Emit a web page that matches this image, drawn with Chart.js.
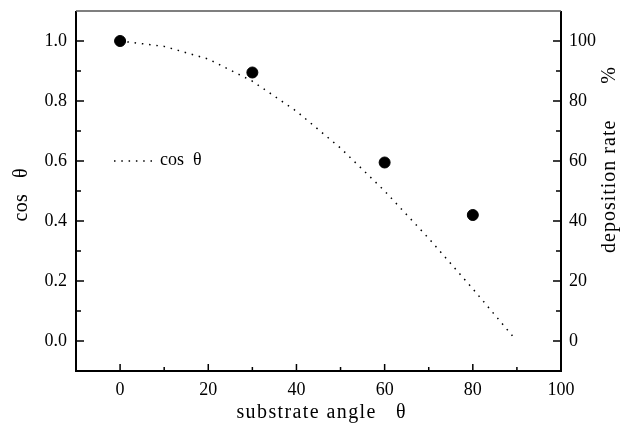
<!DOCTYPE html>
<html>
<head>
<meta charset="utf-8">
<script src="https://cdn.jsdelivr.net/npm/chart.js@4.4.1/dist/chart.umd.min.js"></script>
<style>
  html, body { margin: 0; padding: 0; background: #fff; }
  #wrap { width: 629px; height: 427px; }
</style>
</head>
<body>
<div id="wrap"><canvas id="angleChart" width="629" height="427"></canvas></div>
<script>
// cos theta curve
const curveAngles = [0, 10, 20, 30, 40, 50, 60, 70, 80, 89];
const curveCos = [1.0, 0.982, 0.94, 0.866, 0.766, 0.643, 0.5, 0.342, 0.174, 0.017];

// measured deposition rate (%)
const measAngles = [0, 30, 60, 80];
const measRate = [100, 89.5, 59.5, 42];

// ticks
const xTicks = [0, 20, 40, 60, 80, 100];
const xMinor = [-10, 10, 30, 50, 70, 90];
const yTicks = [0, 0.2, 0.4, 0.6, 0.8, 1.0];
const yMinor = [-0.1, 0.1, 0.3, 0.5, 0.7, 0.9];
const y2Ticks = [0, 20, 40, 60, 80, 100];
const y2Minor = [-10, 10, 30, 50, 70, 90];

const FONT = "'Liberation Serif', 'Times New Roman', serif";

function setTicks(list) {
  return function (scale) {
    scale.ticks = list.map((v) => ({ value: v }));
  };
}

function fitBox(size) {
  return function (s) {
    if (s.isHorizontal()) s.height = size;
    else s.width = size;
    s.paddingTop = 0;
    s.paddingBottom = 0;
    s.paddingLeft = 0;
    s.paddingRight = 0;
  };
}

// draws text with spacing, centred on (0,0) of the current transform
function spacedText(ctx, text, spacing) {
  ctx.letterSpacing = spacing + "px";
  const w = ctx.measureText(text).width - spacing;
  ctx.textAlign = "left";
  ctx.fillText(text, -w / 2, 0);
  ctx.letterSpacing = "0px";
}

const framePlugin = {
  id: "frame",
  afterDraw(chart) {
    const { ctx, chartArea: a, scales } = chart;
    const x = scales.x, y = scales.y, y2 = scales.y2;
    ctx.save();
    ctx.strokeStyle = "#000";

    // inward ticks
    ctx.lineWidth = 1.5;
    ctx.beginPath();
    xTicks.forEach((v) => {
      const px = x.getPixelForValue(v);
      ctx.moveTo(px, a.bottom); ctx.lineTo(px, a.bottom - 7);
    });
    xMinor.forEach((v) => {
      const px = x.getPixelForValue(v);
      ctx.moveTo(px, a.bottom); ctx.lineTo(px, a.bottom - 4);
    });
    yTicks.forEach((v) => {
      const py = y.getPixelForValue(v);
      ctx.moveTo(a.left, py); ctx.lineTo(a.left + 8, py);
    });
    yMinor.forEach((v) => {
      const py = y.getPixelForValue(v);
      ctx.moveTo(a.left, py); ctx.lineTo(a.left + 5, py);
    });
    y2Ticks.forEach((v) => {
      const py = y2.getPixelForValue(v);
      ctx.moveTo(a.right, py); ctx.lineTo(a.right - 8, py);
    });
    y2Minor.forEach((v) => {
      const py = y2.getPixelForValue(v);
      ctx.moveTo(a.right, py); ctx.lineTo(a.right - 5, py);
    });
    ctx.stroke();

    // frame
    ctx.lineWidth = 2;
    ctx.beginPath();
    ctx.moveTo(a.left, a.top); ctx.lineTo(a.left, a.bottom);
    ctx.lineTo(a.right, a.bottom); ctx.lineTo(a.right, a.top);
    ctx.stroke();
    ctx.strokeStyle = "#555";
    ctx.lineWidth = 1.5;
    ctx.beginPath();
    ctx.moveTo(a.left, a.top); ctx.lineTo(a.right, a.top);
    ctx.stroke();

    // legend inside plot
    const ly = y.getPixelForValue(0.6);
    ctx.strokeStyle = "#000";
    ctx.lineWidth = 1.5;
    ctx.setLineDash([1.5, 5.8]);
    ctx.beginPath();
    ctx.moveTo(a.left + 38, ly); ctx.lineTo(a.left + 78, ly);
    ctx.stroke();
    ctx.setLineDash([]);
    ctx.fillStyle = "#000";
    ctx.font = "18px " + FONT;
    ctx.textAlign = "left";
    ctx.textBaseline = "middle";
    ctx.fillText("cos  θ", a.left + 84, ly - 1);

    // axis titles
    ctx.font = "20px " + FONT;
    ctx.textBaseline = "middle";

    ctx.save();
    ctx.translate(321, 413);
    spacedText(ctx, "substrate angle   θ", 1.4);
    ctx.restore();

    ctx.save();
    ctx.translate(22, 195);
    ctx.rotate(-Math.PI / 2);
    spacedText(ctx, "cos   θ", 0.3);
    ctx.restore();

    ctx.save();
    ctx.translate(610, 160);
    ctx.rotate(-Math.PI / 2);
    spacedText(ctx, "deposition rate      %", 1);
    ctx.restore();

    ctx.restore();
  },
};

const tickFont = { family: FONT, size: 18 };

new Chart(document.getElementById("angleChart"), {
  type: "scatter",
  data: {
    datasets: [
      {
        label: "cos θ",
        data: curveAngles.map((a, i) => ({ x: a, y: curveCos[i] })),
        showLine: true,
        borderColor: "#000",
        borderWidth: 1.5,
        borderDash: [1.5, 5.8],
        pointRadius: 0,
        yAxisID: "y",
      },
      {
        label: "deposition rate",
        data: measAngles.map((a, i) => ({ x: a, y: measRate[i] })),
        backgroundColor: "#000",
        borderColor: "#000",
        pointRadius: 5.5,
        yAxisID: "y2",
      },
    ],
  },
  options: {
    responsive: false,
    animation: false,
    devicePixelRatio: 1,
    layout: { padding: { top: 11, left: 0, right: 0, bottom: 0 } },
    plugins: { legend: { display: false }, tooltip: { enabled: false } },
    scales: {
      x: {
        type: "linear",
        min: -10,
        max: 100,
        afterBuildTicks: setTicks(xTicks),
        afterFit: fitBox(56),
        grid: { display: false, drawTicks: false },
        border: { display: false },
        ticks: { color: "#000", font: tickFont, padding: 8, maxRotation: 0 },
      },
      y: {
        position: "left",
        min: -0.1,
        max: 1.1,
        afterBuildTicks: setTicks(yTicks),
        afterFit: fitBox(76),
        grid: { display: false, drawTicks: false },
        border: { display: false },
        ticks: { color: "#000", font: tickFont, padding: 9, callback: (v) => v.toFixed(1) },
      },
      y2: {
        position: "right",
        min: -10,
        max: 110,
        afterBuildTicks: setTicks(y2Ticks),
        afterFit: fitBox(68),
        grid: { display: false, drawTicks: false },
        border: { display: false },
        ticks: { color: "#000", font: tickFont, padding: 8 },
      },
    },
  },
  plugins: [framePlugin],
});
</script>
</body>
</html>
